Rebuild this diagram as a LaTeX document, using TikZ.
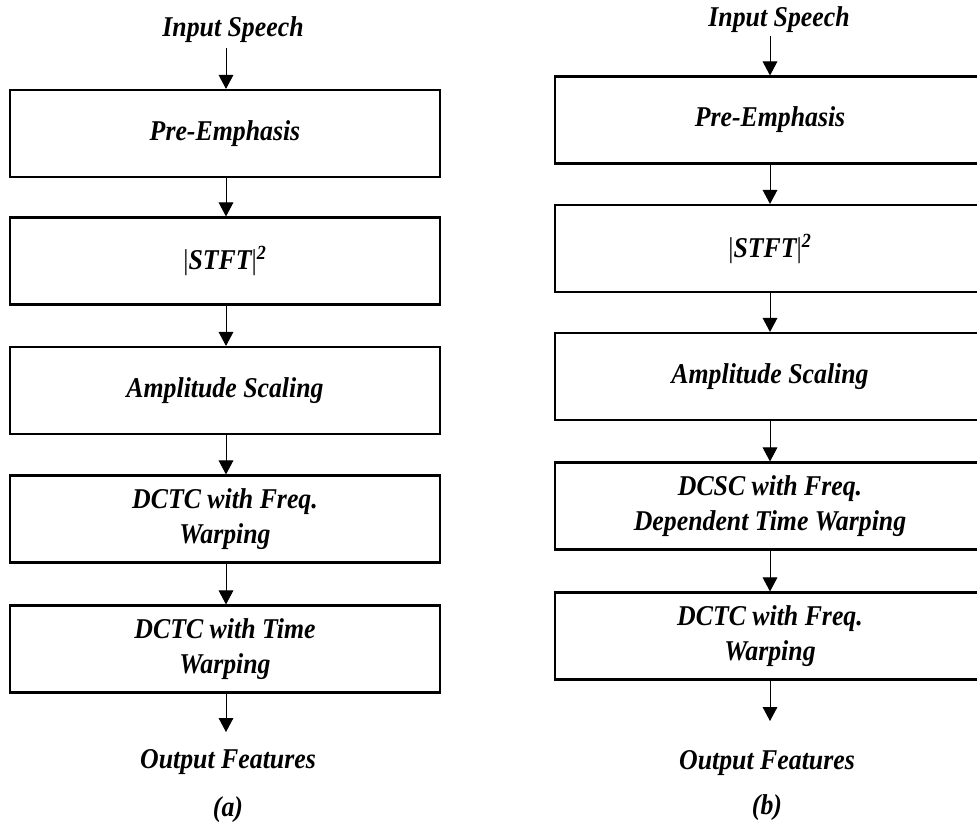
\documentclass[tikz,border=0pt]{standalone}
\usepackage{fontspec}
\setmainfont{Liberation Serif}[FakeStretch=0.9]
\usetikzlibrary{arrows.meta}
\begin{document}
\begin{tikzpicture}[x=0.75pt,y=-0.75pt,
  every node/.style={font=\fontsize{21.5}{26}\selectfont\bfseries\itshape, align=center, inner sep=0pt},
  procbox/.style={draw, line width=1.6pt, minimum width=322.5pt, minimum height=65.25pt},
  flow/.style={line width=0.7pt, -{Triangle[width=11pt,length=10.5pt]}}]
\clip (0,0) rectangle (977,825);
\fill[white] (0,0) rectangle (977,825);
% ---- (a) ----
\node (ina) at (233,30) {Input Speech};
\node[procbox] (a1) at (225,133.5) {Pre-Emphasis};
\node[procbox] (a2) at (225,261) {{\upshape\mdseries|}STFT{\upshape\mdseries|}\textsuperscript{2}};
\node[procbox] (a3) at (225,390.5) {Amplitude Scaling};
\node[procbox] (a4) at (225,519) {DCTC with Freq.\\Warping};
\node[procbox] (a5) at (225,649) {DCTC with Time\\Warping};
\node (outa) at (228,762) {Output Features};
\node (capa) at (228,810) {(a)};
\coordinate (as) at (226,48);
\coordinate (ae) at (226,732);
\draw[flow] (as) -- (as |- a1.north);
\draw[flow] (a1.south -| as) -- (a2.north -| as);
\draw[flow] (a2.south -| as) -- (a3.north -| as);
\draw[flow] (a3.south -| as) -- (a4.north -| as);
\draw[flow] (a4.south -| as) -- (a5.north -| as);
\draw[flow] (a5.south -| as) -- (ae);
% ---- (b) ----
\node (inb) at (779,20) {Input Speech};
\node[procbox] (b1) at (770,120) {Pre-Emphasis};
\node[procbox] (b2) at (770,248.5) {{\upshape\mdseries|}STFT{\upshape\mdseries|}\textsuperscript{2}};
\node[procbox] (b3) at (770,376.5) {Amplitude Scaling};
\node[procbox] (b4) at (770,506) {DCSC with Freq.\\Dependent Time Warping};
\node[procbox] (b5) at (770,636) {DCTC with Freq.\\Warping};
\node (outb) at (767,763) {Output Features};
\node (capb) at (767,808) {(b)};
\coordinate (bs) at (770,36);
\coordinate (be) at (770,721);
\draw[flow] (bs) -- (bs |- b1.north);
\draw[flow] (b1.south -| bs) -- (b2.north -| bs);
\draw[flow] (b2.south -| bs) -- (b3.north -| bs);
\draw[flow] (b3.south -| bs) -- (b4.north -| bs);
\draw[flow] (b4.south -| bs) -- (b5.north -| bs);
\draw[flow] (b5.south -| bs) -- (be);
\end{tikzpicture}
\end{document}
